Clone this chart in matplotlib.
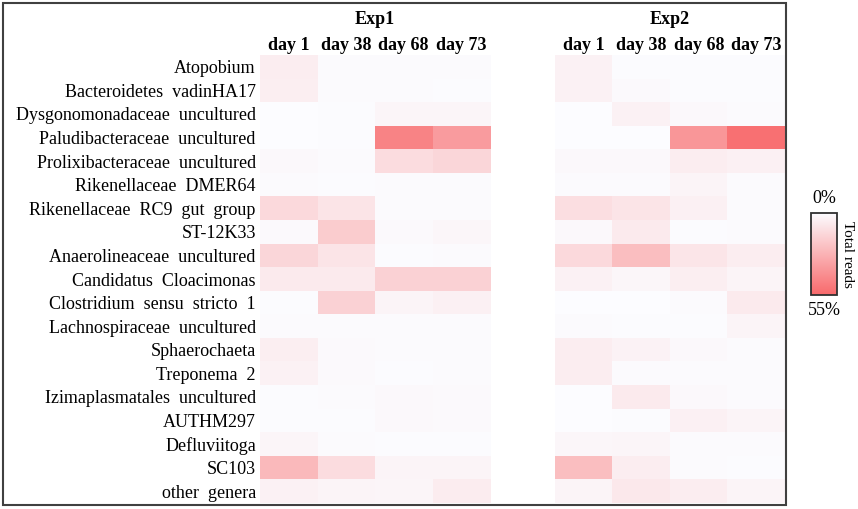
import matplotlib
matplotlib.use("Agg")
import matplotlib.pyplot as plt
import numpy as np
from matplotlib.colors import LinearSegmentedColormap
from matplotlib.patches import Rectangle

plt.rcParams['font.family'] = ['Liberation Serif', 'DejaVu Serif']

# Genera (rows, top to bottom)
genera = [
  "Atopobium",
  "Bacteroidetes  vadinHA17",
  "Dysgonomonadaceae  uncultured",
  "Paludibacteraceae  uncultured",
  "Prolixibacteraceae  uncultured",
  "Rikenellaceae  DMER64",
  "Rikenellaceae  RC9  gut  group",
  "ST-12K33",
  "Anaerolineaceae  uncultured",
  "Candidatus  Cloacimonas",
  "Clostridium  sensu  stricto  1",
  "Lachnospiraceae  uncultured",
  "Sphaerochaeta",
  "Treponema  2",
  "Izimaplasmatales  uncultured",
  "AUTHM297",
  "Defluviitoga",
  "SC103",
  "other  genera",
]

days = ["day 1", "day 38", "day 68", "day 73"]

# % of total reads, columns = day 1, day 38, day 68, day 73
exp1 = [
  [5.5, 0.5, 0.5, 0.5],
  [5.0, 0.6, 0.5, 0.4],
  [0.2, 0.3, 2.5, 2.5],
  [0.0, 0.3, 45.0, 36.0],
  [1.5, 0.8, 12.0, 14.0],
  [0.5, 0.3, 0.5, 0.5],
  [13.0, 9.0, 0.8, 0.5],
  [1.0, 18.0, 1.0, 2.0],
  [14.0, 9.0, 0.3, 0.8],
  [6.5, 6.5, 16.0, 16.0],
  [0.3, 16.0, 3.0, 4.5],
  [0.5, 0.8, 0.5, 0.8],
  [5.0, 1.0, 0.8, 0.5],
  [4.0, 1.0, 0.3, 0.5],
  [0.3, 0.5, 1.5, 1.0],
  [0.3, 0.3, 1.5, 1.0],
  [2.5, 0.5, 0.3, 0.3],
  [25.0, 12.0, 3.0, 3.0],
  [4.0, 3.0, 2.5, 6.0],
]

exp2 = [
  [4.0, 0.3, 0.3, 0.3],
  [4.0, 1.0, 0.3, 0.3],
  [0.2, 4.0, 1.5, 0.5],
  [0.2, 0.2, 38.0, 52.0],
  [1.5, 1.5, 5.5, 4.5],
  [0.5, 0.5, 3.0, 0.8],
  [11.0, 9.0, 4.5, 0.8],
  [1.5, 6.5, 0.3, 0.5],
  [13.0, 23.0, 8.5, 5.5],
  [4.0, 2.0, 5.0, 3.0],
  [0.2, 0.2, 0.8, 6.5],
  [0.5, 0.3, 0.3, 3.0],
  [5.5, 3.5, 1.5, 0.8],
  [5.5, 0.8, 0.5, 0.5],
  [0.2, 6.5, 1.5, 0.5],
  [0.2, 0.3, 4.5, 3.0],
  [2.0, 2.5, 0.5, 0.5],
  [23.0, 5.5, 0.8, 0.3],
  [3.0, 7.5, 5.5, 3.0],
]

vmax = 55
cmap = LinearSegmentedColormap.from_list("wr", ["#FCFCFF", "#F8696B"])

W, H = 858, 509
fig = plt.figure(figsize=(W / 100, H / 100), dpi=100)

def fig_rect(x0, y0, x1, y1):
  return [x0 / W, 1 - y1 / H, (x1 - x0) / W, (y1 - y0) / H]

ax1 = fig.add_axes(fig_rect(260, 55, 490, 503))
ax2 = fig.add_axes(fig_rect(555, 55, 785, 503))

for ax, data, title in [(ax1, exp1, "Exp1"), (ax2, exp2, "Exp2")]:
  im = ax.imshow(np.array(data), cmap=cmap, vmin=0, vmax=vmax, aspect='auto',
                 interpolation='nearest')
  ax.set_xticks(range(len(days)))
  ax.set_xticklabels(days, fontsize=13, fontweight='bold')
  ax.xaxis.tick_top()
  ax.tick_params(axis='x', length=0, pad=1)
  ax.tick_params(axis='y', length=0, pad=3)
  ax.set_yticks([])
  for s in ax.spines.values():
    s.set_visible(False)
  ax.text(0.5, 1 + 36 / 448, title, transform=ax.transAxes, ha='center',
          va='center', fontsize=13, fontweight='bold')

ax1.set_yticks(range(len(genera)))
ax1.set_yticklabels(genera, fontsize=13)

# outer frame
fig.patches.append(Rectangle((2.5 / W, 1 - 505 / H), (786 - 2.5) / W, (505 - 3) / H,
                             transform=fig.transFigure, fill=False,
                             edgecolor='#404040', linewidth=1.5))

# colour bar
cax = fig.add_axes(fig_rect(811, 213, 837, 295))
cb = fig.colorbar(im, cax=cax)
cax.invert_yaxis()
cb.set_ticks([])
cb.outline.set_edgecolor('#303030')
cb.outline.set_linewidth(1.3)
cax.text(0.5, 1.07, "0%", transform=cax.transAxes, ha='center', va='bottom', fontsize=13)
cax.text(0.5, -0.08, "55%", transform=cax.transAxes, ha='center', va='top', fontsize=13)
cax.text(1.42, 0.5, "Total reads", transform=cax.transAxes, ha='center', va='center',
         rotation=270, fontsize=11)

fig.savefig("out.png", dpi=100)
